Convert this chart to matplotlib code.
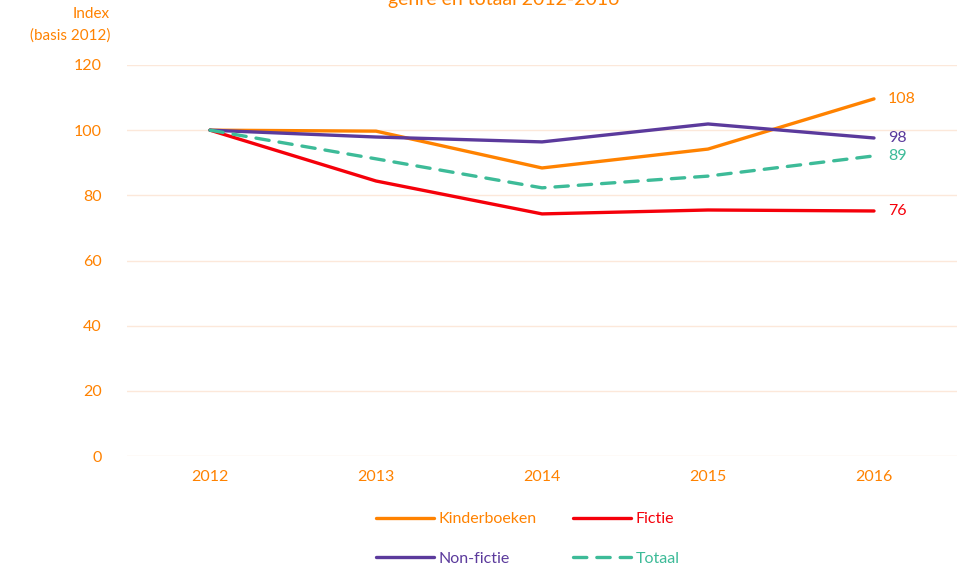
import matplotlib
matplotlib.use("Agg")
import matplotlib.pyplot as plt

plt.rcParams['font.family'] = ['Lato', 'DejaVu Sans']

years = ["2012", "2013", "2014", "2015", "2016"]
kinderboeken = [100, 99.7, 88.4, 94.2, 109.6]
fictie = [100, 84.4, 74.3, 75.5, 75.2]
non_fictie = [100, 97.9, 96.4, 101.9, 97.6]
totaal = [100, 91.2, 82.3, 85.9, 92.1]
end_labels = ["108", "76", "98", "89"]
yticks = [0, 20, 40, 60, 80, 100, 120]

ORANGE = "#FF8200"
RED = "#F5000A"
PURPLE = "#5B3A9C"
GREEN = "#3DBB98"
GRID = "#FCE8DA"

fig = plt.figure(figsize=(9.68, 5.68), dpi=100)
ax = fig.add_axes([127/968, 1-456/568, (957-127)/968, (456-65)/568])

x = list(range(len(years)))
series = [
    ("Kinderboeken", kinderboeken, ORANGE, "-"),
    ("Fictie", fictie, RED, "-"),
    ("Non-fictie", non_fictie, PURPLE, "-"),
    ("Totaal", totaal, GREEN, (0, (4, 3))),
]
handles = {}
for (name, vals, col, ls), lab in zip(series, end_labels):
    h, = ax.plot(x, vals, color=col, lw=2.4, ls=ls, label=name,
                 solid_capstyle='round', dash_capstyle='round')
    handles[name] = h
    ax.annotate(lab, (x[-1], vals[-1]), xytext=(10, 0), textcoords='offset points',
                color=col, fontsize=11.5, va='center', ha='left')

ax.set_xlim(-0.5, 4.5)
ax.set_ylim(0, 120)
ax.set_yticks(yticks)
ax.set_xticks(x)
ax.set_xticklabels(years)
ax.grid(axis='y', color=GRID, lw=1)
ax.set_axisbelow(True)
for s in ax.spines.values():
    s.set_visible(False)
ax.tick_params(axis='both', length=0, colors=ORANGE, labelsize=11.5)
ax.tick_params(axis='y', pad=18)
ax.tick_params(axis='x', pad=10)

fig.text(110/968, 1-25/568, "Index\n(basis 2012)", color=ORANGE, fontsize=11,
         ha='right', va='center', linespacing=1.6)
fig.text(0.52, 1.0, "genre en totaal 2012-2016", color=ORANGE, fontsize=14,
         ha='center', va='center')

order = ["Kinderboeken", "Non-fictie", "Fictie", "Totaal"]
hl = [handles[n] for n in order]
leg = fig.legend(handles=hl, loc='center', bbox_to_anchor=(528/968, 1-539/568),
                 ncol=2, frameon=False, fontsize=11.5, handlelength=3.6,
                 handletextpad=0.3, columnspacing=2.3, labelspacing=1.6)
for t, h in zip(leg.get_texts(), hl):
    t.set_color(h.get_color())

fig.savefig("out.png", dpi=100)
